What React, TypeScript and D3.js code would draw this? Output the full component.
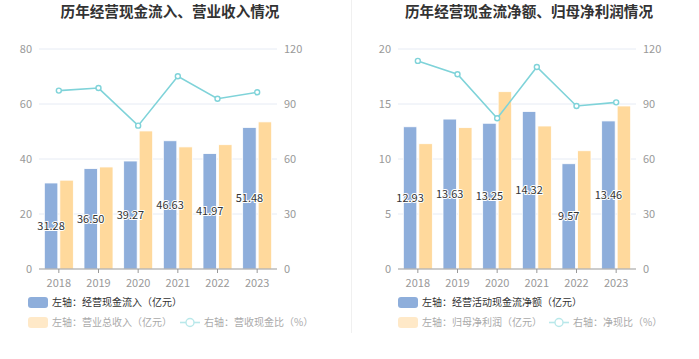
import React from "react";
import * as d3 from "d3";

const years = ["2018", "2019", "2020", "2021", "2022", "2023"];

// Left chart
const cashInflow = [31.28, 36.5, 39.27, 46.63, 41.97, 51.48];
const revenue = [32.3, 37.1, 50.2, 44.4, 45.2, 53.5];
const revenueCashRatio = [97.3, 98.7, 78.2, 105.1, 92.9, 96.4];
const leftTicksA = [0, 20, 40, 60, 80];

// Right chart
const netCashFlow = [12.93, 13.63, 13.25, 14.32, 9.57, 13.46];
const netProfit = [11.39, 12.85, 16.12, 13.0, 10.75, 14.82];
const netCashRatio = [113.5, 106.2, 82.2, 110.2, 88.9, 90.9];
const leftTicksB = [0, 5, 10, 15, 20];

const rightTicks = [0, 30, 60, 90, 120];

const BLUE = "#8eaedb";
const YELLOW = "#ffd99c";
const CYAN = "#7fd3d9";
const FONT = "'Noto Sans CJK SC', 'Noto Sans', sans-serif";

type PanelProps = {
  x0: number;
  x1: number;
  title: string;
  barA: number[];
  barB: number[];
  line: number[];
  leftTicks: number[];
  legendA: string;
  legendB: string;
  legendC: string;
  legendX: number;
  legendCX: number;
};

function Panel(p: PanelProps) {
  const top = 49;
  const bottom = 269;
  const x = d3.scaleBand<string>().domain(years).range([p.x0, p.x1]);
  const yL = d3
    .scaleLinear()
    .domain([0, p.leftTicks[p.leftTicks.length - 1]])
    .range([bottom, top]);
  const yR = d3.scaleLinear().domain([0, 120]).range([bottom, top]);
  const bw = 13.5;
  const cx = (d: string) => (x(d) as number) + x.bandwidth() / 2;
  const lineGen = d3
    .line<number>()
    .x((_, i) => cx(years[i]))
    .y((v) => yR(v));
  const titleX = (p.x0 + p.x1) / 2 + 12;
  return (
    <g fontFamily={FONT}>
      <text
        x={titleX}
        y={17}
        textAnchor="middle"
        fontSize={14.6}
        fontWeight="bold"
        fill="#333"
      >
        {p.title}
      </text>
      {p.leftTicks.map((t, i) => (
        <g key={"g" + i}>
          {i > 0 && (
            <line
              x1={p.x0}
              x2={p.x1}
              y1={yL(t)}
              y2={yL(t)}
              stroke="#e6ebf4"
              strokeWidth={1}
            />
          )}
          <text
            x={p.x0 - 7}
            y={yL(t)}
            dy="0.35em"
            textAnchor="end"
            fontSize={11}
            fill="#999"
          >
            {t}
          </text>
          <text
            x={p.x1 + 7}
            y={yR(rightTicks[i])}
            dy="0.35em"
            textAnchor="start"
            fontSize={11}
            fill="#999"
          >
            {rightTicks[i]}
          </text>
        </g>
      ))}
      {years.map((yr, i) => (
        <g key={"b" + yr}>
          <rect
            x={cx(yr) - bw - 1}
            y={yL(p.barA[i])}
            width={bw}
            height={bottom - yL(p.barA[i])}
            fill={BLUE}
            stroke="#fff"
            strokeWidth={0.8}
          />
          <rect
            x={cx(yr) + 1}
            y={yL(p.barB[i])}
            width={bw}
            height={bottom - yL(p.barB[i])}
            fill={YELLOW}
            stroke="#fff"
            strokeWidth={0.8}
          />
        </g>
      ))}
      <line x1={p.x0} x2={p.x1} y1={bottom} y2={bottom} stroke="#999" strokeWidth={1} />
      {years.map((yr) => (
        <g key={"t" + yr}>
          <line x1={cx(yr)} x2={cx(yr)} y1={bottom} y2={bottom + 4} stroke="#999" />
          <text x={cx(yr)} y={bottom + 14} dy="0.35em" textAnchor="middle" fontSize={11} fill="#999">
            {yr}
          </text>
        </g>
      ))}
      <path d={lineGen(p.line) || ""} fill="none" stroke={CYAN} strokeWidth={1.6} />
      {p.line.map((v, i) => (
        <circle
          key={"c" + i}
          cx={cx(years[i])}
          cy={yR(v)}
          r={2.5}
          fill="#fff"
          stroke={CYAN}
          strokeWidth={1.4}
        />
      ))}
      {years.map((yr, i) => {
        const yv = (yL(p.barA[i]) + bottom) / 2;
        return (
          <text
            key={"l" + yr}
            x={cx(yr) - bw / 2 - 1}
            y={yv}
            dy="0.35em"
            textAnchor="middle"
            fontSize={11}
            fill="#333"
            stroke="#fff"
            strokeWidth={2}
            paintOrder="stroke"
          >
            {p.barA[i].toFixed(2)}
          </text>
        );
      })}
      {/* legend */}
      <rect x={p.legendX} y={297} width={20} height={11} rx={3} fill={BLUE} />
      <text x={p.legendX + 24} y={302.5} dy="0.35em" fontSize={10} fill="#333">
        {p.legendA}
      </text>
      <rect x={p.legendX} y={317} width={20} height={11} rx={3} fill="#ffe9c8" />
      <text x={p.legendX + 24} y={322.5} dy="0.35em" fontSize={10} fill="#aaa">
        {p.legendB}
      </text>
      <line
        x1={p.legendCX}
        x2={p.legendCX + 20}
        y1={322.5}
        y2={322.5}
        stroke="#b9e8ea"
        strokeWidth={1.6}
      />
      <circle
        cx={p.legendCX + 10}
        cy={322.5}
        r={4}
        fill="#fff"
        stroke="#b9e8ea"
        strokeWidth={1.4}
      />
      <text x={p.legendCX + 24} y={322.5} dy="0.35em" fontSize={10} fill="#aaa">
        {p.legendC}
      </text>
    </g>
  );
}

export default function App() {
  return (
    <svg
      width={699}
      height={359}
      style={{ position: "absolute", left: 0, top: 0, background: "#fff" }}
    >
      <rect width={699} height={359} fill="#fff" />
      <line x1={351.5} x2={351.5} y1={0} y2={333} stroke="#f0f0f0" strokeWidth={1} />
      <Panel
        x0={39}
        x1={277}
        title="历年经营现金流入、营业收入情况"
        barA={cashInflow}
        barB={revenue}
        line={revenueCashRatio}
        leftTicks={leftTicksA}
        legendA="左轴：经营现金流入（亿元）"
        legendB="左轴：营业总收入（亿元）"
        legendC="右轴：营收现金比（%）"
        legendX={28}
        legendCX={180}
      />
      <Panel
        x0={398}
        x1={636}
        title="历年经营现金流净额、归母净利润情况"
        barA={netCashFlow}
        barB={netProfit}
        line={netCashRatio}
        leftTicks={leftTicksB}
        legendA="左轴：经营活动现金流净额（亿元）"
        legendB="左轴：归母净利润（亿元）"
        legendC="右轴：净现比（%）"
        legendX={398}
        legendCX={549}
      />
    </svg>
  );
}
